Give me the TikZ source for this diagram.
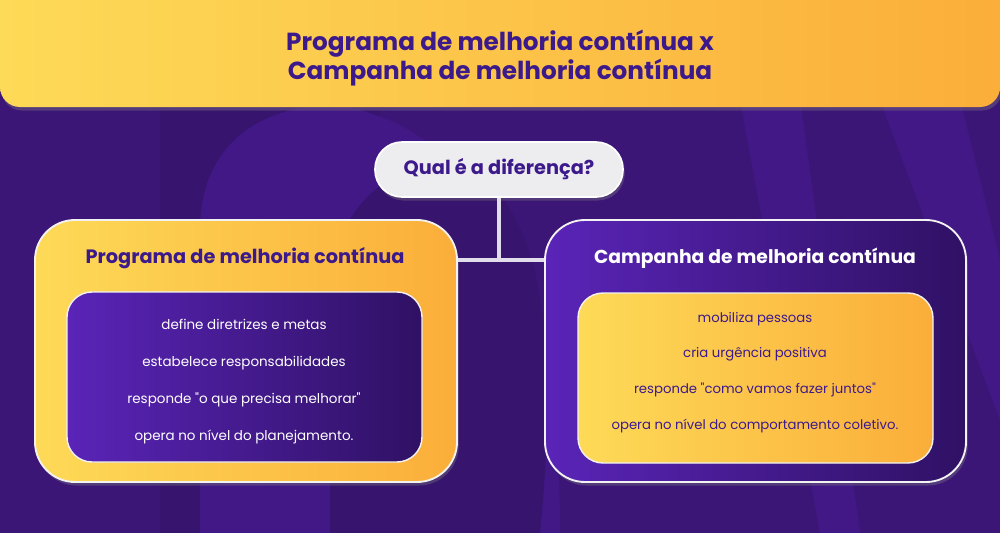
\documentclass[tikz,border=0pt]{standalone}
\usepackage{fontspec}
\setmainfont{Poppins}[Ligatures=TeXOff]
\usetikzlibrary{shadows}
\newdimen\pxu \pxu=0.03cm
\definecolor{bgpurple}{HTML}{3C1677}
\definecolor{bglight}{HTML}{421886}
\definecolor{bgdark}{HTML}{37146D}
\definecolor{ttext}{HTML}{3D1A8C}
\definecolor{yelL}{HTML}{FDDA57}
\definecolor{yelR}{HTML}{FBAE3A}
\definecolor{purL}{HTML}{5A24B8}
\definecolor{purR}{HTML}{2F1164}
\definecolor{pillbg}{HTML}{EDEDEF}
\definecolor{linegray}{HTML}{E2DDEA}
\tikzset{
  shad/.style={drop shadow={opacity=0.35,shadow xshift=1.5pt,shadow yshift=-3pt}},
  yelbox/.style={rounded corners=#1, left color=yelL, right color=yelR, draw=white!90!gray, line width=1.6pt},
  purbox/.style={rounded corners=#1, left color=purL, right color=purR, draw=white!90!gray, line width=1.6pt},
  boxhead/.style={font=\fontsize{16.5}{20}\selectfont\bfseries},
  itemtxt/.style={font=\fontsize{11.5}{31.5}\selectfont, align=center},
  conn/.style={draw=linegray, line width=2.6pt},
}
\begin{document}
\begin{tikzpicture}[x=0.03cm,y=-0.03cm]
\useasboundingbox (0,0) rectangle (1000,533);
% background
\fill[bgpurple] (0,0) rectangle (1000,533);
\fill[bgdark] (160,110) rectangle (380,533);
\fill[bglight] (200,533) -- (200,230) .. controls (200,120) and (300,95) .. (360,110)
  .. controls (470,140) and (560,260) .. (560,533) -- cycle;
\fill[bgdark] (330,533) -- (330,300) .. controls (330,180) and (430,150) .. (470,170)
  .. controls (540,210) and (560,330) .. (540,533) -- cycle;
\fill[bglight] (880,100) -- (960,100) -- (1000,260) -- (1000,420) -- cycle;
\fill[bglight] (740,100) -- (800,100) -- (860,533) -- (820,533) -- cycle;
% title banner
\node[shad, rounded corners=20\pxu, left color=yelL, right color=yelR,
  minimum width=1000\pxu, minimum height=147\pxu, inner sep=0pt] (banner) at (500,33.5) {};
\node[font=\fontsize{21.1}{25.5}\selectfont\bfseries, text=ttext, align=center] (title) at (500,58)
  {Programa de melhoria contínua x\\Campanha de melhoria contínua};
% question pill
\node[shad, rounded corners=27\pxu, fill=pillbg, draw=white, line width=1.4pt,
  minimum width=248\pxu, minimum height=55\pxu, inner sep=0pt,
  font=\fontsize{16.5}{20}\selectfont\bfseries, text=ttext] (q) at (499,169.5) {Qual é a diferença?};
% outer boxes
\node[shad, yelbox=40\pxu, minimum width=422\pxu, minimum height=262\pxu, inner sep=0pt] (lbox) at (246,351) {};
\node[shad, purbox=40\pxu, minimum width=421\pxu, minimum height=262\pxu, inner sep=0pt] (rbox) at (755.5,351) {};
% connectors
\coordinate (j) at (q.south |- 0,260);
\draw[conn] (q.south) -- (j);
\draw[conn] (lbox.east |- j) -- (rbox.west |- j);
% headings
\node[boxhead, text=ttext] (lhead) at (245,258) {Programa de melhoria contínua};
\node[boxhead, text=white, font=\fontsize{16}{20}\selectfont\bfseries] (rhead) at (755,258) {Campanha de melhoria contínua};
% inner boxes
\node[purbox=25\pxu, line width=1.2pt, minimum width=355\pxu, minimum height=170\pxu, inner sep=0pt] (linner) at (244.5,377) {};
\node[yelbox=25\pxu, line width=1.2pt, minimum width=355\pxu, minimum height=170\pxu, inner sep=0pt] (rinner) at (755.5,378) {};
\node[itemtxt, text=white] (ltext) at (244,381.5)
  {define diretrizes e metas\\estabelece responsabilidades\\responde "o que precisa melhorar"\\opera no nível do planejamento.};
\node[itemtxt, text=ttext, font=\fontsize{11.3}{30.5}\selectfont] (rtext) at (755,372.5)
  {mobiliza pessoas\\cria urgência positiva\\responde "como vamos fazer juntos"\\opera no nível do comportamento coletivo.};
\end{tikzpicture}
\end{document}
